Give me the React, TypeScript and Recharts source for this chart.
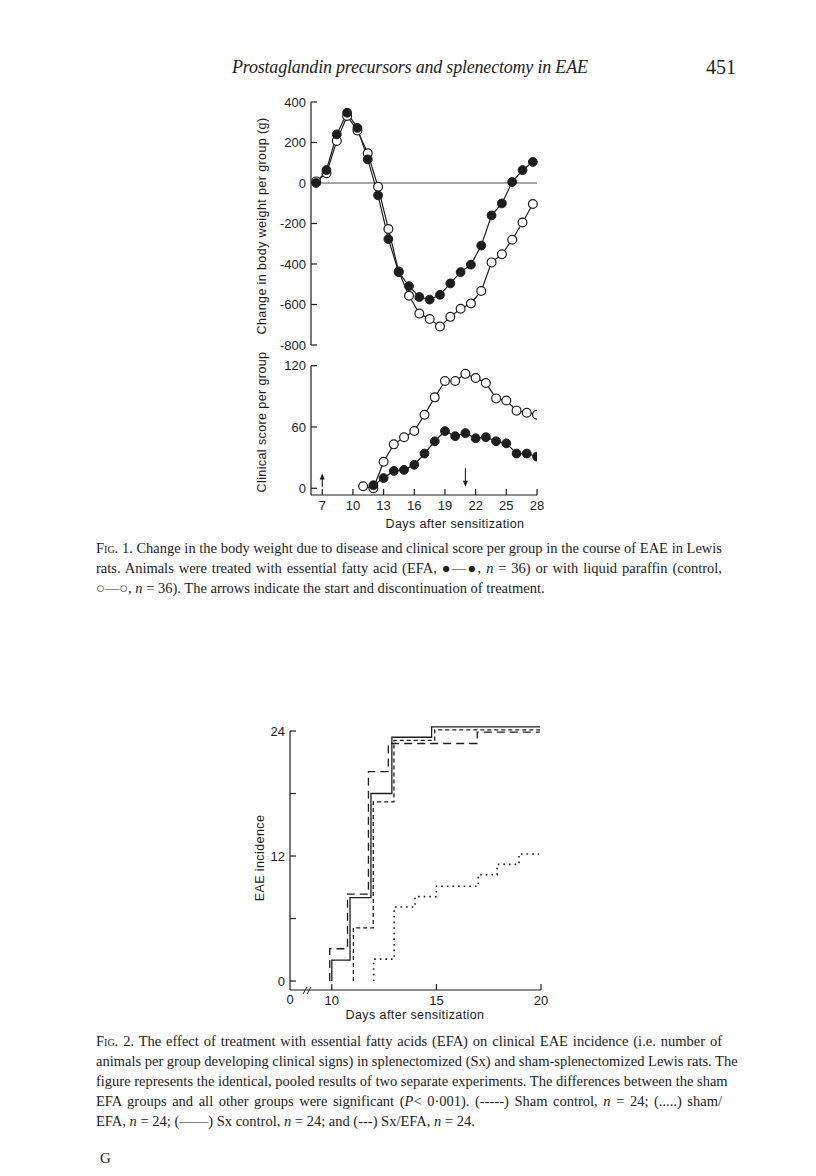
import React from "react";
import { LineChart, Line, XAxis, YAxis, ReferenceLine } from "recharts";

// Fig. 1 (upper panel): change in body weight per group, g
const weightDays = [7, 8, 9, 10, 11, 12, 13, 14, 15, 16, 17, 18, 19, 20, 21, 22, 23, 24, 25, 26, 27, 28];
const efaWeight = [0, 64, 240, 347, 272, 117, -61, -277, -440, -509, -563, -576, -552, -496, -440, -403, -309, -160, -101, 5, 64, 104];
const controlWeight = [8, 48, 208, 331, 259, 147, -19, -227, -437, -557, -645, -672, -709, -661, -621, -595, -533, -392, -352, -280, -195, -104];
const weightTicks = [400, 200, 0, -200, -400, -600, -800];

// Fig. 1 (lower panel): clinical score per group
const scoreDays = [11, 12, 13, 14, 15, 16, 17, 18, 19, 20, 21, 22, 23, 24, 25, 26, 27, 28];
const controlScore = [2, 0, 26, 43, 50, 56, 72, 89, 105, 105, 112, 108, 103, 88, 86, 76, 74, 72];
const efaScore = [null, 3, 10, 17, 18, 23, 34, 46, 56, 51, 54, 49, 50, 46, 44, 34, 34, 31];
const scoreTicks = [0, 60, 120];
const scoreDayTicks = [7, 10, 13, 16, 19, 22, 25, 28];
// start (up) and end (down) of treatment
const arrowDays = [7, 21];
const arrowFrom = [1.5, 19.5];
const arrowTo = [14.5, 1.5];

// Fig. 2: cumulative EAE incidence (step curves)
const sxControlDays = [10, 10, 10.87, 11.87, 12.87, 14.77, 19.95];
const sxControlN = [0, 2, 8, 18, 23.4, 24.4, 24.4];
const sxEfaDays = [9.9, 9.9, 10.75, 11.75, 12.7, 16.95, 19.95];
const sxEfaN = [0, 3.1, 8.35, 20.1, 22.8, 23.9, 23.9];
const shamControlDays = [11.03, 11.03, 11.98, 12.97, 14.92, 19.95];
const shamControlN = [0, 5.1, 17.2, 23.1, 24.1, 24.1];
const shamEfaDays = [12, 12, 12.98, 13.98, 15, 17, 17.9, 18.95, 19.9];
const shamEfaN = [0, 2.1, 7.1, 8.1, 9.1, 10.2, 11.2, 12.2, 12.2];
const incidenceTicks = [0, 6, 12, 18, 24];
const incidenceLabels = [0, 12, 24];
// axis is broken between 0 and 10 days; 8 stands for the "0" position
const incidenceDayTicks = [8, 10, 15, 20];

const INK = "#1d1d1d";
const SANS = "'Liberation Sans', Arial, sans-serif";
const SERIF = "'Liberation Serif', 'Times New Roman', serif";

const weightData = weightDays.map((d, i) => ({ day: d, efa: efaWeight[i], control: controlWeight[i] }));
const scoreData = scoreDays.map((d, i) => ({ day: d, efa: efaScore[i], control: controlScore[i] }));
const steps = (days: number[], n: number[]) => days.map((d, i) => ({ day: d, n: n[i] }));

const filledDot = { r: 4.4, fill: INK, stroke: INK, strokeWidth: 1 };
const openDot = { r: 4.4, fill: "#fff", stroke: INK, strokeWidth: 1.2 };

function InYTick(props: any) {
  const { x, y, payload, labels } = props;
  const show = !labels || labels.includes(payload.value);
  return (
    <g>
      <line x1={x} y1={y} x2={x + 6} y2={y} stroke={INK} strokeWidth={1.2} />
      {show && (
        <text x={x - 5} y={y} dy="0.36em" textAnchor="end" fontSize={13} fontFamily={SANS} fill={INK}>
          {payload.value}
        </text>
      )}
    </g>
  );
}

function UpXTick(props: any) {
  const { x, y, payload, broken } = props;
  if (broken && payload.value === 8) {
    return (
      <g>
        <line x1={x + 13} y1={y + 4} x2={x + 17} y2={y - 3} stroke={INK} strokeWidth={1} />
        <line x1={x + 17} y1={y + 4} x2={x + 21} y2={y - 3} stroke={INK} strokeWidth={1} />
        <text x={x} y={y + 9} dy="0.36em" textAnchor="middle" fontSize={13} fontFamily={SANS} fill={INK}>0</text>
      </g>
    );
  }
  return (
    <g>
      <line x1={x} y1={y} x2={x} y2={y - 6} stroke={INK} strokeWidth={1.2} />
      <text x={x} y={y + 10} dy="0.36em" textAnchor="middle" fontSize={13} fontFamily={SANS} fill={INK}>
        {payload.value}
      </text>
    </g>
  );
}

function Arrow(props: any) {
  const { x1, y1, x2, y2 } = props;
  const dir = y2 < y1 ? 1 : -1;
  return (
    <g>
      <line x1={x1} y1={y1} x2={x2} y2={y2 + dir * 4} stroke={INK} strokeWidth={1.1} />
      <polygon points={`${x2},${y2} ${x2 - 2.5},${y2 + dir * 6} ${x2 + 2.5},${y2 + dir * 6}`} fill={INK} />
    </g>
  );
}

function Rotated({ x, y, children }: any) {
  return (
    <div
      style={{
        position: "absolute",
        left: x,
        top: y,
        transform: "translate(-50%, -50%) rotate(-90deg)",
        whiteSpace: "nowrap",
        fontFamily: SANS,
        fontSize: 12.5,
        letterSpacing: 0.4,
        color: INK,
      }}
    >
      {children}
    </div>
  );
}

function AxisTitle({ x, y, children }: any) {
  return (
    <div
      style={{
        position: "absolute",
        left: x,
        top: y,
        transform: "translate(-50%, -50%)",
        whiteSpace: "nowrap",
        fontFamily: SANS,
        fontSize: 12.5,
        letterSpacing: 0.4,
        color: INK,
      }}
    >
      {children}
    </div>
  );
}

function CaptionLine({ top, last, children }: any) {
  return (
    <div
      style={{
        position: "absolute",
        left: 96,
        top: top - 10,
        width: 626,
        height: 20,
        lineHeight: "20px",
        fontFamily: SERIF,
        fontSize: 14.5,
        color: INK,
        whiteSpace: "nowrap",
        textAlign: last ? "left" : "justify",
        textAlignLast: last ? "left" : "justify",
      }}
    >
      {children}
    </div>
  );
}

const Fig = () => <span style={{ fontVariant: "small-caps" }}>Fig.</span>;
const N = () => <i>n</i>;

export default function App() {
  return (
    <div style={{ position: "absolute", left: 0, top: 0, width: 816, height: 1176, background: "#fff", color: INK }}>
      {/* running head */}
      <div style={{ position: "absolute", left: 232, top: 57, fontFamily: SERIF, fontStyle: "italic", fontSize: 18, letterSpacing: -0.2, whiteSpace: "nowrap" }}>
        Prostaglandin precursors and splenectomy in EAE
      </div>
      <div style={{ position: "absolute", left: 706, top: 56, fontFamily: SERIF, fontSize: 20 }}>451</div>

      {/* Fig. 1 upper: body weight */}
      <div style={{ position: "absolute", left: 240, top: 90 }}>
        <LineChart width={310} height={270} data={weightData} margin={{ top: 12, right: 12, bottom: 15, left: 21 }}>
          <XAxis type="number" dataKey="day" domain={[6.5, 28.5]} allowDataOverflow hide />
          <YAxis
            type="number"
            domain={[-800, 400]}
            ticks={weightTicks}
            allowDataOverflow
            width={50}
            tickSize={0}
            tickMargin={0}
            tickLine={false}
            axisLine={{ stroke: INK, strokeWidth: 1.2 }}
            tick={<InYTick />}
          />
          <ReferenceLine segment={[{ x: 7, y: 0 }, { x: 28.4, y: 0 }]} stroke={INK} strokeWidth={0.8} />
          <Line dataKey="control" stroke={INK} strokeWidth={1.2} dot={openDot} isAnimationActive={false} />
          <Line dataKey="efa" stroke={INK} strokeWidth={1.2} dot={filledDot} isAnimationActive={false} />
        </LineChart>
      </div>
      <Rotated x={262} y={226}>Change in body weight per group (g)</Rotated>

      {/* Fig. 1 lower: clinical score */}
      <div style={{ position: "absolute", left: 240, top: 355 }}>
        <LineChart width={310} height={175} data={scoreData} margin={{ top: 10.7, right: 13, bottom: 15, left: 21 }}>
          <XAxis
            type="number"
            dataKey="day"
            domain={[5.9, 28]}
            ticks={scoreDayTicks}
            allowDataOverflow
            height={20}
            tickSize={0}
            tickMargin={0}
            tickLine={false}
            axisLine={{ stroke: INK, strokeWidth: 1.2 }}
            tick={<UpXTick />}
          />
          <YAxis
            type="number"
            domain={[-6.6, 120]}
            ticks={scoreTicks}
            allowDataOverflow
            width={50}
            tickSize={0}
            tickMargin={0}
            tickLine={false}
            axisLine={{ stroke: INK, strokeWidth: 1.2 }}
            tick={<InYTick />}
          />
          {arrowDays.map((d, i) => (
            <ReferenceLine
              key={d}
              segment={[{ x: d, y: arrowFrom[i] }, { x: d, y: arrowTo[i] }]}
              shape={(p: any) => <Arrow {...p} />}
            />
          ))}
          <Line dataKey="control" stroke={INK} strokeWidth={1.2} dot={openDot} isAnimationActive={false} />
          <Line dataKey="efa" stroke={INK} strokeWidth={1.2} dot={filledDot} isAnimationActive={false} />
        </LineChart>
      </div>
      <Rotated x={262} y={422}>Clinical score per group</Rotated>
      <AxisTitle x={455} y={524}>Days after sensitization</AxisTitle>

      <CaptionLine top={548}>
        <Fig /> 1. Change in the body weight due to disease and clinical score per group in the course of EAE in Lewis
      </CaptionLine>
      <CaptionLine top={568}>
        rats. Animals were treated with essential fatty acid (EFA, ●—●, <N /> = 36) or with liquid paraffin (control,
      </CaptionLine>
      <CaptionLine top={588} last>
        ○—○, <N /> = 36). The arrows indicate the start and discontinuation of treatment.
      </CaptionLine>

      {/* Fig. 2: EAE incidence */}
      <div style={{ position: "absolute", left: 230, top: 720 }}>
        <LineChart width={330} height={300} margin={{ top: 5.8, right: 19, bottom: 10, left: 10 }}>
          <XAxis
            type="number"
            dataKey="day"
            domain={[8, 20]}
            ticks={incidenceDayTicks}
            allowDataOverflow
            height={20}
            tickSize={0}
            tickMargin={0}
            tickLine={false}
            axisLine={{ stroke: INK, strokeWidth: 1.2 }}
            tick={<UpXTick broken />}
          />
          <YAxis
            type="number"
            domain={[-0.86, 24.5]}
            ticks={incidenceTicks}
            allowDataOverflow
            width={50}
            tickSize={0}
            tickMargin={0}
            tickLine={false}
            axisLine={false}
            tick={<InYTick labels={incidenceLabels} />}
          />
          <ReferenceLine segment={[{ x: 8, y: -0.86 }, { x: 8, y: 24 }]} stroke={INK} strokeWidth={1.2} />
          <Line data={steps(shamEfaDays, shamEfaN)} dataKey="n" type="stepAfter" stroke={INK} strokeWidth={1.6} strokeDasharray="1.6 4" dot={false} isAnimationActive={false} />
          <Line data={steps(shamControlDays, shamControlN)} dataKey="n" type="stepAfter" stroke={INK} strokeWidth={1.3} strokeDasharray="4 3" dot={false} isAnimationActive={false} />
          <Line data={steps(sxEfaDays, sxEfaN)} dataKey="n" type="stepAfter" stroke={INK} strokeWidth={1.3} strokeDasharray="8 5" dot={false} isAnimationActive={false} />
          <Line data={steps(sxControlDays, sxControlN)} dataKey="n" type="stepAfter" stroke={INK} strokeWidth={1.3} dot={false} isAnimationActive={false} />
        </LineChart>
      </div>
      <Rotated x={260} y={858}>EAE incidence</Rotated>
      <AxisTitle x={415} y={1015}>Days after sensitization</AxisTitle>

      <CaptionLine top={1041}>
        <Fig /> 2. The effect of treatment with essential fatty acids (EFA) on clinical EAE incidence (i.e. number of
      </CaptionLine>
      <CaptionLine top={1061}>
        animals per group developing clinical signs) in splenectomized (Sx) and sham-splenectomized Lewis rats. The
      </CaptionLine>
      <CaptionLine top={1081}>
        figure represents the identical, pooled results of two separate experiments. The differences between the sham
      </CaptionLine>
      <CaptionLine top={1101}>
        EFA groups and all other groups were significant (<i>P</i>&lt; 0·001). (-----) Sham control, <N /> = 24; (.....) sham/
      </CaptionLine>
      <CaptionLine top={1121} last>
        EFA, <N /> = 24; (——) Sx control, <N /> = 24; and (---) Sx/EFA, <N /> = 24.
      </CaptionLine>

      <div style={{ position: "absolute", left: 100, top: 1150, fontFamily: SERIF, fontSize: 15 }}>G</div>
    </div>
  );
}
